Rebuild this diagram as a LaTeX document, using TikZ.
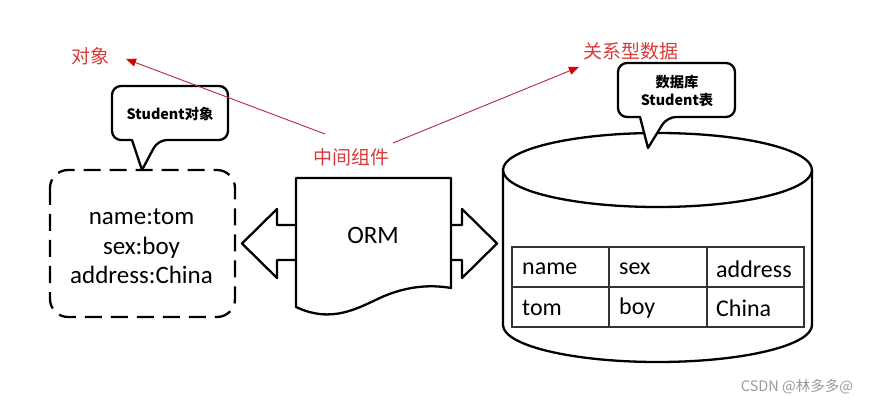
\documentclass[tikz,border=0pt]{standalone}
\usepackage{fontspec}
\setmainfont{Carlito}
\newfontfamily\cjk{Noto Sans CJK SC}
\usetikzlibrary{arrows.meta}
\definecolor{lblred}{HTML}{D83A3A}
\definecolor{arrred}{HTML}{B02A3A}
\definecolor{wmgray}{HTML}{9A9A9A}
\begin{document}
\begin{tikzpicture}[x=1pt,y=-1pt,
  outline/.style={line width=2.3pt, line join=round},
  redlbl/.style={text=lblred, inner sep=0pt, font=\cjk\fontsize{19}{19}\selectfont},
  redarrow/.style={draw=arrred, line width=0.9pt, -{Triangle[length=10pt,width=8pt]}, arrows={[color=red!85!black]}},
  calloutbox/.style={outline, fill=white},
  callouttext/.style={inner sep=0pt, align=center, font=\cjk\bfseries\fontsize{14.3}{18}\selectfont},
  celltext/.style={anchor=west, inner sep=0pt, font=\fontsize{24}{24}\selectfont},
  tblline/.style={line width=1.1pt, draw=black!80}
]
\useasboundingbox (0,0) rectangle (873,406);

% cylinder (database)
\draw[outline, fill=white] (503,170) -- (503,325)
  .. controls (503,345.4) and (572.2,362) .. (657.5,362)
  .. controls (742.8,362) and (812,345.4) .. (812,325) -- (812,170);
\draw[outline] (657.5,170) ellipse[x radius=154.5, y radius=37];

% table
\draw[tblline] (512,247) rectangle (804,327);
\draw[tblline] (512,287) -- (804,287);
\draw[tblline] (609,247) -- (609,327);
\draw[tblline] (707,247) -- (707,327);
\node[celltext] (c11) at (522,269) {name};
\node[celltext] (c12) at (619,269) {sex};
\node[celltext] (c13) at (716,269) {address};
\node[celltext] (c21) at (522,308) {tom};
\node[celltext] (c22) at (619,308) {boy};
\node[celltext] (c23) at (716,308) {China};

% dashed object box
\draw[outline, dash pattern=on 17pt off 9pt, rounded corners=18] (50,170) rectangle (235,317);
\node[inner sep=0pt, align=center, font=\fontsize{25}{29.5}\selectfont] (objdata) at (141.5,246.5)
  {name:tom\\sex:boy\\address:China};

% block arrows
\draw[outline, fill=white] (300,225) -- (277,225) -- (277,209) -- (242,243.5) -- (277,278) -- (277,260) -- (300,260);
\draw[outline, fill=white] (447,225) -- (462,225) -- (462,209) -- (497,243.5) -- (462,278) -- (462,260) -- (447,260);

% ORM document shape
\draw[outline, fill=white] (296,178) -- (451,178) -- (451,288)
  .. controls (428,284) and (405,287) .. (382,297)
  .. controls (358,308) and (332,324) .. (296,307) -- cycle;
\node[inner sep=0pt, font=\fontsize{25}{25}\selectfont] (orm) at (373,235) {ORM};

% callouts
\draw[calloutbox] (142,170) -- (132,140) [rounded corners=9] -- (112,140) -- (112,86) -- (228,86) -- (228,140) -- (158,140) [sharp corners] -- cycle;
\node[callouttext] (objcall) at (170,114) {Student对象};

\draw[calloutbox] (648,148) -- (640,117) [rounded corners=9] -- (618,117) -- (618,63) -- (735,63) -- (735,117) -- (667,117) [sharp corners] -- cycle;
\node[callouttext] (dbcall) at (677,91) {数据库\\Student表};

% red labels and arrows
\node[redlbl] (obj) at (90,56) {对象};
\node[redlbl] (mid) at (351,157) {中间组件};
\node[redlbl] (rel) at (631,51) {关系型数据};
\coordinate (midA) at (325,134);
\coordinate (midB) at (393,143);
\coordinate (objtip) at (126,59);
\coordinate (reltip) at (579,67);
\draw[redarrow] (midA) -- (objtip);
\draw[redarrow] (midB) -- (reltip);

% watermark
\node[inner sep=0pt, text=wmgray, font=\cjk\fontsize{14.5}{15}\selectfont] (wm) at (797,387) {CSDN @林多多@};
\end{tikzpicture}
\end{document}
